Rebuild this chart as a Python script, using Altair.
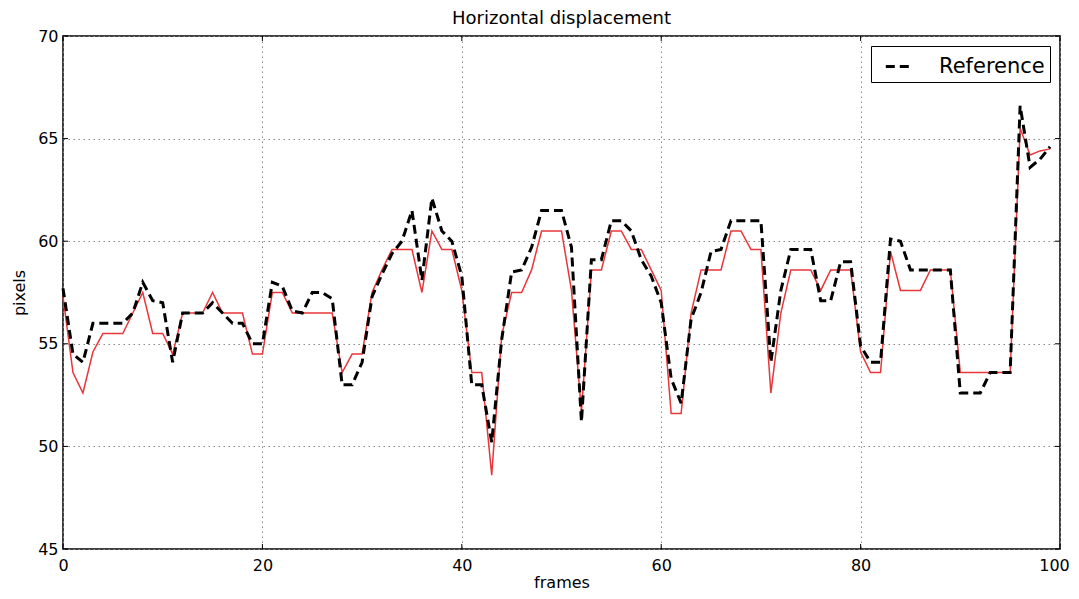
import altair as alt
import pandas as pd

frames = list(range(100))

estimate = [
    57.3, 53.6, 52.6, 54.6, 55.5, 55.5, 55.5, 56.5, 57.5, 55.5,
    55.5, 54.5, 56.5, 56.5, 56.5, 57.5, 56.5, 56.5, 56.5, 54.5,
    54.5, 57.5, 57.5, 56.5, 56.5, 56.5, 56.5, 56.5, 53.6, 54.5,
    54.5, 57.5, 58.6, 59.6, 59.6, 59.6, 57.5, 60.5, 59.6, 59.6,
    57.6, 53.6, 53.6, 48.6, 55.4, 57.5, 57.5, 58.6, 60.5, 60.5,
    60.5, 57.6, 51.7, 58.6, 58.6, 60.5, 60.5, 59.6, 59.6, 58.6,
    57.6, 51.6, 51.6, 56.5, 58.6, 58.6, 58.6, 60.5, 60.5, 59.6,
    59.6, 52.6, 56.5, 58.6, 58.6, 58.6, 57.6, 58.6, 58.6, 58.6,
    54.6, 53.6, 53.6, 59.5, 57.6, 57.6, 57.6, 58.6, 58.6, 58.6,
    53.6, 53.6, 53.6, 53.6, 53.6, 53.6, 65.5, 64.2, 64.4, 64.5,
]

reference = [
    57.7, 54.5, 54.1, 56.0, 56.0, 56.0, 56.0, 56.5, 58.0, 57.1,
    57.0, 54.1, 56.5, 56.5, 56.5, 57.0, 56.5, 56.0, 56.0, 55.0,
    55.0, 58.0, 57.8, 56.6, 56.5, 57.5, 57.5, 57.2, 53.0, 53.0,
    54.1, 57.3, 58.4, 59.4, 60.0, 61.5, 58.1, 62.1, 60.5, 60.0,
    58.3, 53.0, 53.0, 50.2, 55.2, 58.5, 58.6, 59.7, 61.5, 61.5,
    61.5, 59.7, 51.2, 59.1, 59.1, 61.0, 61.0, 60.5, 59.1, 58.3,
    57.0, 53.3, 52.1, 56.2, 57.5, 59.5, 59.6, 61.0, 61.0, 61.0,
    61.0, 54.1, 57.6, 59.6, 59.6, 59.6, 57.1, 57.1, 59.0, 59.0,
    54.9, 54.1, 54.1, 60.1, 60.0, 58.6, 58.6, 58.6, 58.6, 58.6,
    52.6, 52.6, 52.6, 53.6, 53.6, 53.6, 66.6, 63.6, 64.0, 64.6,
]

x_ticks = [0, 20, 40, 60, 80, 100]
y_ticks = [45, 50, 55, 60, 65, 70]

W, H = 997, 513
TICK = 5

df_est = pd.DataFrame({"frame": frames, "value": estimate})
df_ref = pd.DataFrame({"frame": frames, "value": reference, "series": ["Reference"] * len(frames)})
df_xt = pd.DataFrame({"frame": x_ticks})
df_yt = pd.DataFrame({"value": y_ticks})

FONT = "DejaVu Sans"

x_scale = alt.Scale(domain=[0, 100], nice=False)
y_scale = alt.Scale(domain=[45, 70], nice=False, zero=False)

x_enc = alt.X(
    "frame:Q",
    scale=x_scale,
    axis=alt.Axis(
        values=x_ticks,
        title="frames",
        format="d",
        labelOffset={"condition": {"test": "datum.value == 100", "value": -6}, "value": 0},
    ),
)
y_enc = alt.Y("value:Q", scale=y_scale, axis=alt.Axis(values=y_ticks, title="pixels", format="d"))

red = alt.Chart(df_est).mark_line(color="#e8363b", strokeWidth=1.5).encode(x=x_enc, y=y_enc)

black = alt.Chart(df_ref).mark_line(strokeWidth=3, strokeDash=[9, 5]).encode(
    x=x_enc,
    y=y_enc,
    color=alt.Color(
        "series:N",
        scale=alt.Scale(domain=["Reference"], range=["black"]),
        legend=alt.Legend(
            title=None,
            orient="top-right",
            offset=10,
            symbolType="stroke",
            symbolSize=750,
            symbolStrokeWidth=3,
            symbolDash=[9, 5],
            labelFontSize=21,
            labelFont=FONT,
            labelColor="black",
            strokeColor="black",
            fillColor="white",
            padding=5,
            cornerRadius=0,
            labelOffset=24,
            symbolOffset=8,
        ),
    ),
)

tick_style = dict(color="black", strokeWidth=1)
xt_bottom = alt.Chart(df_xt).mark_rule(**tick_style).encode(
    x=alt.X("frame:Q", scale=x_scale), y=alt.value(H), y2=alt.value(H - TICK)
)
xt_top = alt.Chart(df_xt).mark_rule(**tick_style).encode(
    x=alt.X("frame:Q", scale=x_scale), y=alt.value(0), y2=alt.value(TICK)
)
yt_left = alt.Chart(df_yt).mark_rule(**tick_style).encode(
    y=alt.Y("value:Q", scale=y_scale), x=alt.value(0), x2=alt.value(TICK)
)
yt_right = alt.Chart(df_yt).mark_rule(**tick_style).encode(
    y=alt.Y("value:Q", scale=y_scale), x=alt.value(W), x2=alt.value(W - TICK)
)

chart = (
    alt.layer(red, black, xt_bottom, xt_top, yt_left, yt_right)
    .properties(
        width=W,
        height=H,
        title=alt.TitleParams("Horizontal displacement", font=FONT, fontSize=18, fontWeight="normal", color="black", offset=0),
        autosize=alt.AutoSizeParams(type="none"),
        padding={"left": 55, "top": 28, "right": 11, "bottom": 42},
    )
    .configure_view(stroke="black", strokeWidth=1.5)
    .configure_axis(
        grid=True,
        gridColor="#888888",
        gridDash=[1.5, 3.5],
        gridWidth=1,
        domain=False,
        ticks=False,
        labelFlush=False,
        labelFont=FONT,
        labelFontSize=16,
        labelColor="black",
        titleFont=FONT,
        titleFontSize=16,
        titleFontWeight="normal",
        titleColor="black",
    )
    .configure_axisX(labelPadding=8, titlePadding=1)
    .configure_axisY(labelPadding=5, titlePadding=10)
)

chart.save("out.html", embed_options={"renderer": "svg", "actions": False})
